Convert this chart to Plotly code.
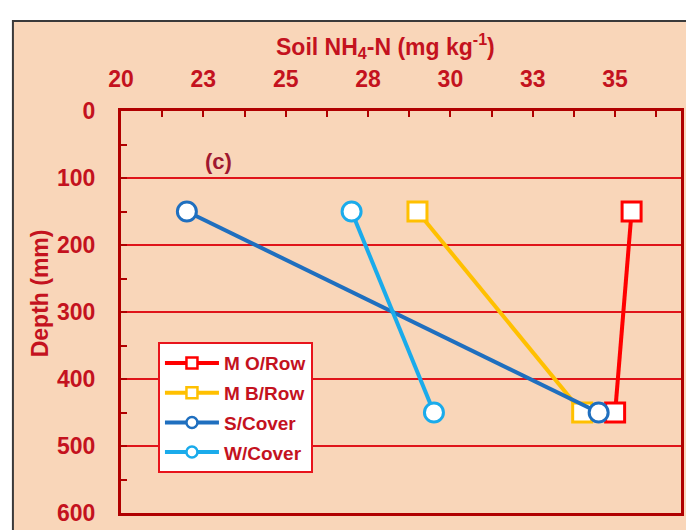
import plotly.graph_objects as go

# ---- data ----
depth = [150, 450]
series_names = ["M O/Row", "M B/Row", "S/Cover", "W/Cover"]
m_o_row = [35.5, 35.0]
m_b_row = [29.0, 34.0]
s_cover = [22.0, 34.5]
w_cover = [27.0, 29.5]
series_colors = ["#FF0000", "#FFC000", "#1F6FBF", "#1AABEB"]
series_symbols = ["square", "square", "circle", "circle"]
x_tick_vals = [20, 22.5, 25, 27.5, 30, 32.5, 35]
x_tick_text = ["20", "23", "25", "28", "30", "33", "35"]
y_tick_vals = [0, 100, 200, 300, 400, 500, 600]

DARK_RED = "#C4121E"
FONT = "Liberation Sans, Arial, sans-serif"

fig = go.Figure()
values = [m_o_row, m_b_row, s_cover, w_cover]
for name, xs, col, sym in zip(series_names, values, series_colors, series_symbols):
    fig.add_trace(go.Scatter(
        x=xs, y=depth, mode="lines+markers", name=name, showlegend=False,
        line=dict(color=col, width=4),
        marker=dict(symbol=sym, size=19, color="white", line=dict(width=3, color=col)),
    ))
# legend entries (smaller symbols, like the reference)
for i, (name, col, sym) in enumerate(zip(series_names, series_colors, series_symbols)):
    fig.add_trace(go.Scatter(
        x=[None], y=[None], mode="lines+markers", name=name, legendgroup=str(i),
        line=dict(color=col, width=4),
        marker=dict(symbol=sym, size=11, color="white", line=dict(width=2.5, color=col)),
    ))

fig.update_layout(
    width=694, height=530,
    margin=dict(l=113, r=21, t=103, b=13),
    paper_bgcolor="white",
    plot_bgcolor="white",
    font=dict(family=FONT, color=DARK_RED, size=22, weight="bold"),
    shapes=[dict(type="rect", xref="paper", yref="paper",
                 x0=-0.193, x1=1.2, y0=-0.2, y1=1.224,
                 fillcolor="#F9D6B9", line=dict(color="#3a3a3a", width=2),
                 layer="below")],
    xaxis=dict(
        side="top", range=[20, 37],
        tickmode="array", tickvals=x_tick_vals, ticktext=x_tick_text,
        ticks="inside", ticklen=6, tickwidth=2, tickcolor="#B00000",
        minor=dict(dtick=1.25, tick0=20, ticks="inside", ticklen=6, tickwidth=2,
                   tickcolor="#B00000", showgrid=False),
        showgrid=False, zeroline=False,
        showline=True, linecolor="#B00000", linewidth=3, mirror=True,
        tickfont=dict(size=23, color=DARK_RED, weight="bold"),
        ticklabelstandoff=12,
    ),
    yaxis=dict(
        range=[600, 0],
        tickmode="array", tickvals=y_tick_vals,
        ticks="inside", ticklen=6, tickwidth=2, tickcolor="#B00000",
        minor=dict(dtick=50, tick0=0, ticks="inside", ticklen=6, tickwidth=2,
                   tickcolor="#B00000", showgrid=False),
        showgrid=True, gridcolor="#E0141A", gridwidth=2, zeroline=False,
        showline=True, linecolor="#B00000", linewidth=3, mirror=True,
        tickfont=dict(size=23, color=DARK_RED, weight="bold"),
        ticklabelstandoff=18,
    ),
    legend=dict(
        x=0.066, y=0.425, xanchor="left", yanchor="top",
        bgcolor="white", bordercolor="#E8141C", borderwidth=2,
        font=dict(size=19, color=DARK_RED, weight="bold"),
        itemwidth=54, tracegroupgap=2,
    ),
    annotations=[
        dict(text="Soil NH<sub>4</sub>-N (mg kg<sup>-1</sup>)", xref="paper", yref="paper",
             x=0.473, y=1.162, showarrow=False, xanchor="center", yanchor="middle",
             font=dict(size=23, color=DARK_RED, weight="bold")),
        dict(text="Depth (mm)", xref="paper", yref="paper", textangle=-90,
             x=-0.145, y=0.546, showarrow=False, xanchor="center", yanchor="middle",
             font=dict(size=23, color=DARK_RED, weight="bold")),
        dict(text="(c)", xref="x", yref="y", x=22.95, y=75, showarrow=False,
             font=dict(size=22, color="#A01830", weight="bold")),
    ],
)

fig.write_html("out.html")
